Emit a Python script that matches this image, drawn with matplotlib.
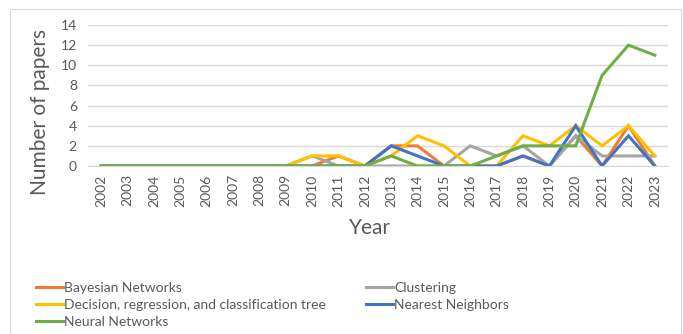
import matplotlib
matplotlib.use("Agg")
import matplotlib.pyplot as plt
from matplotlib.lines import Line2D
from matplotlib.patches import Rectangle

plt.rcParams['font.family'] = ['Lato', 'DejaVu Sans']

years = list(range(2002, 2024))
bayesian = [0, 0, 0, 0, 0, 0, 0, 0, 0, 1, 0, 2, 2, 0, 0, 0, 1, 0, 3, 0, 4, 0]
clustering = [0, 0, 0, 0, 0, 0, 0, 0, 1, 0, 0, 0, 0, 0, 2, 1, 2, 0, 3, 1, 1, 1]
decision_tree = [0, 0, 0, 0, 0, 0, 0, 0, 1, 1, 0, 1, 3, 2, 0, 0, 3, 2, 4, 2, 4, 1]
nearest = [0, 0, 0, 0, 0, 0, 0, 0, 0, 0, 0, 2, 1, 0, 0, 0, 1, 0, 4, 0, 3, 0]
neural = [0, 0, 0, 0, 0, 0, 0, 0, 0, 0, 0, 1, 0, 0, 0, 1, 2, 2, 2, 9, 12, 11]

series = [
    ("Bayesian Networks", bayesian, "#ED7D31"),
    ("Clustering", clustering, "#A5A5A5"),
    ("Decision, regression, and classification tree", decision_tree, "#FFC000"),
    ("Nearest Neighbors", nearest, "#4472C4"),
    ("Neural Networks", neural, "#70AD47"),
]

W, H = 683, 334
fig = plt.figure(figsize=(W / 100, H / 100), dpi=100)


def fx(px):
    return px / W


def fy(py):
    return 1 - py / H


# outer chart border
fig.patches.append(Rectangle((fx(10), -0.05), fx(681 - 10), (H - 9) / H + 0.05,
                             transform=fig.transFigure, fill=False,
                             edgecolor="#D9D9D9", lw=0.8))

ax = fig.add_axes([fx(88), fy(166), fx(668 - 88), (166 - 25) / H])
x = list(range(len(years)))
for name, vals, col in series:
    ax.plot(x, vals, color=col, lw=2.2, solid_joinstyle="miter")

ax.set_xlim(-0.5, len(years) - 0.5)
ax.set_ylim(0, 14)
ax.set_yticks(range(0, 15, 2))
ax.set_xticks(x)
ax.set_xticklabels([str(y) for y in years], rotation=90)
ax.tick_params(axis="both", length=0, labelsize=10, colors="#595959", pad=6)
ax.tick_params(axis="y", pad=8)
ax.grid(axis="y", color="#D9D9D9", lw=1)
ax.set_axisbelow(True)
for s in ax.spines.values():
    s.set_visible(False)
ax.spines["bottom"].set_visible(True)
ax.spines["bottom"].set_color("#D9D9D9")

fig.text(fx(40), fy(112), "Number of papers", rotation=90, ha="center",
         va="center", fontsize=15, color="#595959")
fig.text(fx(370), fy(228), "Year", ha="center", va="center",
         fontsize=15, color="#595959")

# legend laid out row by row in two columns
col_x = [36, 366]
row_y = [287, 304, 321]
for i, (name, vals, col) in enumerate(series):
    r, c = divmod(i, 2)
    x0 = col_x[c]
    y0 = row_y[r]
    fig.add_artist(Line2D([fx(x0), fx(x0 + 27)], [fy(y0), fy(y0)],
                          transform=fig.transFigure, color=col, lw=2.2))
    fig.text(fx(x0 + 28), fy(y0), name, ha="left", va="center_baseline",
             fontsize=10, color="#595959")

fig.savefig("out.png", dpi=100)
